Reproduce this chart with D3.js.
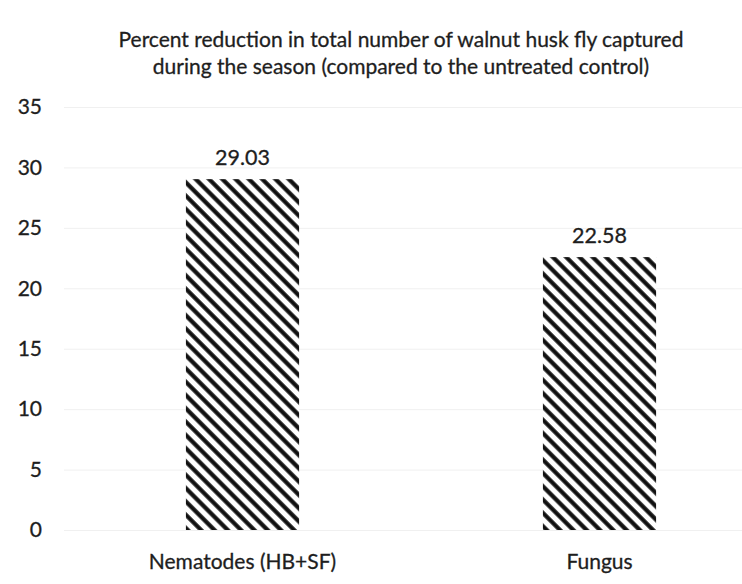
<!DOCTYPE html>
<html>
<head>
<meta charset="utf-8">
<script src="https://cdn.jsdelivr.net/npm/d3@7"></script>
<style>
  html, body { margin: 0; padding: 0; background: #fff; }
  svg { display: block; }
  text { font-family: Lato, "Open Sans", sans-serif; fill: #1e1e1e; stroke: #1e1e1e; stroke-width: 0.3px; }
</style>
</head>
<body>
<svg id="chart" width="742" height="584"></svg>
<script>
// Percent reduction in walnut husk fly captures, by treatment
const categories = ["Nematodes (HB+SF)", "Fungus"];
const reductions = [29.03, 22.58];
const yTicks = [0, 5, 10, 15, 20, 25, 30, 35];
const titleLines = [
  "Percent reduction in total number of walnut husk fly captured",
  "during the season (compared to the untreated control)"
];

const svg = d3.select("#chart");
const FONT = "Lato, 'Open Sans', sans-serif";

// plot area (the category band continues past the right edge)
const plot = { left: 64, right: 778, top: 107, bottom: 530 };

const x = d3.scaleBand()
  .domain(categories)
  .range([plot.left, plot.right])
  .paddingInner(0.683)
  .paddingOuter(0.3415);

const y = d3.scaleLinear()
  .domain([0, 35])
  .range([plot.bottom, plot.top]);

// diagonal hatch fill
const defs = svg.append("defs");
const pat = defs.append("pattern")
  .attr("id", "hatch")
  .attr("patternUnits", "userSpaceOnUse")
  .attr("width", 9.4)
  .attr("height", 9.4)
  .attr("patternTransform", "rotate(-45)");
pat.append("rect").attr("width", 9.4).attr("height", 9.4).attr("fill", "#fff");
pat.append("line")
  .attr("x1", 2.4).attr("y1", 0)
  .attr("x2", 2.4).attr("y2", 9.4)
  .attr("stroke", "#111")
  .attr("stroke-width", 4.2);

// title
svg.append("g")
  .selectAll("text")
  .data(titleLines)
  .join("text")
  .attr("x", 401)
  .attr("y", (d, i) => 47 + i * 27)
  .attr("text-anchor", "middle")
  .attr("font-size", 21)
  .text(d => d);

// gridlines
svg.append("g")
  .attr("transform", `translate(${plot.left},0)`)
  .call(d3.axisLeft(y).tickValues(yTicks).tickSize(-(plot.right - plot.left)).tickFormat(""))
  .call(g => g.select(".domain").remove())
  .call(g => g.selectAll(".tick line").attr("stroke", "#f0f0f0").attr("stroke-width", 1));

// y axis labels
svg.append("g")
  .attr("transform", `translate(${plot.left},0)`)
  .call(d3.axisLeft(y).tickValues(yTicks).tickSize(0).tickPadding(22))
  .call(g => g.select(".domain").remove())
  .call(g => g.selectAll("text")
    .attr("font-size", 21)
    .attr("font-family", FONT)
    .attr("fill", "#1e1e1e"));

// bars
const rows = categories.map((c, i) => ({ c, v: reductions[i] }));
svg.append("g")
  .selectAll("rect")
  .data(rows)
  .join("rect")
  .attr("x", d => x(d.c))
  .attr("width", x.bandwidth())
  .attr("y", d => y(d.v))
  .attr("height", d => y(0) - y(d.v))
  .attr("fill", "url(#hatch)");

// value labels
svg.append("g")
  .selectAll("text")
  .data(rows)
  .join("text")
  .attr("x", d => x(d.c) + x.bandwidth() / 2)
  .attr("y", d => y(d.v) - 14)
  .attr("text-anchor", "middle")
  .attr("font-size", 21.5)
  .text(d => d.v.toFixed(2));

// category labels
svg.append("g")
  .attr("transform", `translate(0,${plot.bottom})`)
  .call(d3.axisBottom(x).tickSize(0).tickPadding(24))
  .call(g => g.select(".domain").remove())
  .call(g => g.selectAll("text")
    .attr("font-size", 21)
    .attr("font-family", FONT)
    .attr("fill", "#1e1e1e"));
</script>
</body>
</html>
